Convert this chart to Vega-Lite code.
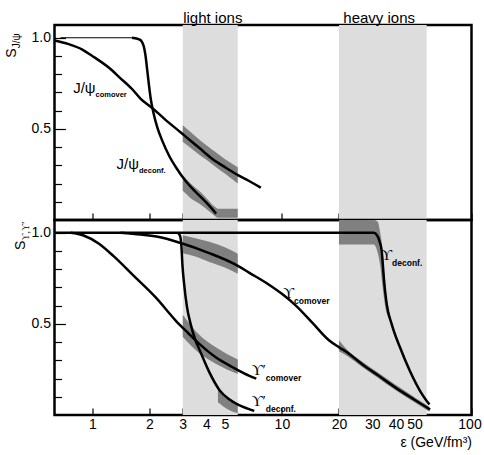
{
  "$schema": "https://vega.github.io/schema/vega-lite/v6.json",
  "padding": {"left": 3.5, "top": 9, "right": 0, "bottom": 0},
  "spacing": 0,
  "bounds": "flush",
  "config": {
    "font": "Liberation Sans",
    "view": {"stroke": "black", "strokeWidth": 2.5},
    "axis": {"grid": false, "domain": false, "tickColor": "black", "tickWidth": 1.2, "labelColor": "black", "labelFontSize": 14, "labelFont": "Liberation Sans"}
  },
  "datasets": {
    "curves": [
      {"panel": "top", "series": "jpsi_comover", "e": 0.632, "s": 0.985},
      {"panel": "top", "series": "jpsi_comover", "e": 0.75, "s": 0.965},
      {"panel": "top", "series": "jpsi_comover", "e": 0.886, "s": 0.935},
      {"panel": "top", "series": "jpsi_comover", "e": 1.0, "s": 0.9},
      {"panel": "top", "series": "jpsi_comover", "e": 1.225, "s": 0.835},
      {"panel": "top", "series": "jpsi_comover", "e": 1.4, "s": 0.78},
      {"panel": "top", "series": "jpsi_comover", "e": 1.63, "s": 0.716},
      {"panel": "top", "series": "jpsi_comover", "e": 1.8, "s": 0.665},
      {"panel": "top", "series": "jpsi_comover", "e": 2.07, "s": 0.615},
      {"panel": "top", "series": "jpsi_comover", "e": 2.4, "s": 0.555},
      {"panel": "top", "series": "jpsi_comover", "e": 2.93, "s": 0.48},
      {"panel": "top", "series": "jpsi_comover", "e": 3.3, "s": 0.435},
      {"panel": "top", "series": "jpsi_comover", "e": 3.66, "s": 0.396},
      {"panel": "top", "series": "jpsi_comover", "e": 4.3, "s": 0.335},
      {"panel": "top", "series": "jpsi_comover", "e": 5.06, "s": 0.287},
      {"panel": "top", "series": "jpsi_comover", "e": 5.9, "s": 0.245},
      {"panel": "top", "series": "jpsi_comover", "e": 6.72, "s": 0.214},
      {"panel": "top", "series": "jpsi_comover", "e": 7.74, "s": 0.177},
      {"panel": "top", "series": "jpsi_deconf_flat", "e": 0.68, "s": 1.0},
      {"panel": "top", "series": "jpsi_deconf_flat", "e": 1.66, "s": 1.0},
      {"panel": "top", "series": "jpsi_deconf", "e": 1.62, "s": 1.0},
      {"panel": "top", "series": "jpsi_deconf", "e": 1.78, "s": 0.99},
      {"panel": "top", "series": "jpsi_deconf", "e": 1.86, "s": 0.96},
      {"panel": "top", "series": "jpsi_deconf", "e": 1.91, "s": 0.9},
      {"panel": "top", "series": "jpsi_deconf", "e": 1.95, "s": 0.82},
      {"panel": "top", "series": "jpsi_deconf", "e": 1.99, "s": 0.74},
      {"panel": "top", "series": "jpsi_deconf", "e": 2.03, "s": 0.67},
      {"panel": "top", "series": "jpsi_deconf", "e": 2.1, "s": 0.59},
      {"panel": "top", "series": "jpsi_deconf", "e": 2.2, "s": 0.51},
      {"panel": "top", "series": "jpsi_deconf", "e": 2.35, "s": 0.43},
      {"panel": "top", "series": "jpsi_deconf", "e": 2.55, "s": 0.35},
      {"panel": "top", "series": "jpsi_deconf", "e": 2.8, "s": 0.28},
      {"panel": "top", "series": "jpsi_deconf", "e": 3.1, "s": 0.215},
      {"panel": "top", "series": "jpsi_deconf", "e": 3.5, "s": 0.155},
      {"panel": "top", "series": "jpsi_deconf", "e": 4.0, "s": 0.095},
      {"panel": "top", "series": "jpsi_deconf", "e": 4.5, "s": 0.035},
      {"panel": "bottom", "series": "ups_deconf", "e": 0.632, "s": 1.0},
      {"panel": "bottom", "series": "ups_deconf", "e": 30.5, "s": 1.0},
      {"panel": "bottom", "series": "ups_deconf", "e": 31.8, "s": 0.985},
      {"panel": "bottom", "series": "ups_deconf", "e": 32.8, "s": 0.95},
      {"panel": "bottom", "series": "ups_deconf", "e": 33.6, "s": 0.9},
      {"panel": "bottom", "series": "ups_deconf", "e": 34.1, "s": 0.82},
      {"panel": "bottom", "series": "ups_deconf", "e": 34.5, "s": 0.75},
      {"panel": "bottom", "series": "ups_deconf", "e": 35.7, "s": 0.61},
      {"panel": "bottom", "series": "ups_deconf", "e": 37.9, "s": 0.5},
      {"panel": "bottom", "series": "ups_deconf", "e": 42, "s": 0.37},
      {"panel": "bottom", "series": "ups_deconf", "e": 47.4, "s": 0.24},
      {"panel": "bottom", "series": "ups_deconf", "e": 53.5, "s": 0.133},
      {"panel": "bottom", "series": "ups_deconf", "e": 60, "s": 0.057},
      {"panel": "bottom", "series": "ups_comover", "e": 1.41, "s": 1.0},
      {"panel": "bottom", "series": "ups_comover", "e": 1.8, "s": 0.99},
      {"panel": "bottom", "series": "ups_comover", "e": 2.25, "s": 0.977},
      {"panel": "bottom", "series": "ups_comover", "e": 2.9, "s": 0.945},
      {"panel": "bottom", "series": "ups_comover", "e": 4.1, "s": 0.89},
      {"panel": "bottom", "series": "ups_comover", "e": 5.7, "s": 0.825},
      {"panel": "bottom", "series": "ups_comover", "e": 6.74, "s": 0.78},
      {"panel": "bottom", "series": "ups_comover", "e": 8.55, "s": 0.715},
      {"panel": "bottom", "series": "ups_comover", "e": 10, "s": 0.665},
      {"panel": "bottom", "series": "ups_comover", "e": 11.85, "s": 0.6},
      {"panel": "bottom", "series": "ups_comover", "e": 14.5, "s": 0.505},
      {"panel": "bottom", "series": "ups_comover", "e": 17.7, "s": 0.41},
      {"panel": "bottom", "series": "ups_comover", "e": 20, "s": 0.372},
      {"panel": "bottom", "series": "ups_comover", "e": 22, "s": 0.345},
      {"panel": "bottom", "series": "ups_comover", "e": 26.6, "s": 0.277},
      {"panel": "bottom", "series": "ups_comover", "e": 32, "s": 0.219},
      {"panel": "bottom", "series": "ups_comover", "e": 39.9, "s": 0.149},
      {"panel": "bottom", "series": "ups_comover", "e": 50, "s": 0.084},
      {"panel": "bottom", "series": "ups_comover", "e": 60.5, "s": 0.03},
      {"panel": "bottom", "series": "upsp_comover", "e": 0.77, "s": 1.0},
      {"panel": "bottom", "series": "upsp_comover", "e": 0.9, "s": 0.985},
      {"panel": "bottom", "series": "upsp_comover", "e": 1.085, "s": 0.94},
      {"panel": "bottom", "series": "upsp_comover", "e": 1.3, "s": 0.87},
      {"panel": "bottom", "series": "upsp_comover", "e": 1.63, "s": 0.77},
      {"panel": "bottom", "series": "upsp_comover", "e": 2.16, "s": 0.645},
      {"panel": "bottom", "series": "upsp_comover", "e": 2.76, "s": 0.517},
      {"panel": "bottom", "series": "upsp_comover", "e": 3.2, "s": 0.45},
      {"panel": "bottom", "series": "upsp_comover", "e": 3.67, "s": 0.39},
      {"panel": "bottom", "series": "upsp_comover", "e": 4.5, "s": 0.315},
      {"panel": "bottom", "series": "upsp_comover", "e": 5.5, "s": 0.262},
      {"panel": "bottom", "series": "upsp_comover", "e": 6.74, "s": 0.215},
      {"panel": "bottom", "series": "upsp_comover", "e": 7.33, "s": 0.2},
      {"panel": "bottom", "series": "upsp_deconf", "e": 2.82, "s": 1.0},
      {"panel": "bottom", "series": "upsp_deconf", "e": 2.9, "s": 0.985},
      {"panel": "bottom", "series": "upsp_deconf", "e": 2.95, "s": 0.93},
      {"panel": "bottom", "series": "upsp_deconf", "e": 2.99, "s": 0.82},
      {"panel": "bottom", "series": "upsp_deconf", "e": 3.05, "s": 0.72},
      {"panel": "bottom", "series": "upsp_deconf", "e": 3.15, "s": 0.6},
      {"panel": "bottom", "series": "upsp_deconf", "e": 3.3, "s": 0.5},
      {"panel": "bottom", "series": "upsp_deconf", "e": 3.5, "s": 0.41},
      {"panel": "bottom", "series": "upsp_deconf", "e": 3.67, "s": 0.36},
      {"panel": "bottom", "series": "upsp_deconf", "e": 4.14, "s": 0.235},
      {"panel": "bottom", "series": "upsp_deconf", "e": 4.7, "s": 0.135},
      {"panel": "bottom", "series": "upsp_deconf", "e": 5.3, "s": 0.085},
      {"panel": "bottom", "series": "upsp_deconf", "e": 5.9, "s": 0.055},
      {"panel": "bottom", "series": "upsp_deconf", "e": 6.6, "s": 0.035},
      {"panel": "bottom", "series": "upsp_deconf", "e": 7.15, "s": 0.022}
    ],
    "bands": [
      {"panel": "top", "band": "jpsi_comover", "e": 3.0, "s": 0.43, "s2": 0.52},
      {"panel": "top", "band": "jpsi_comover", "e": 3.5, "s": 0.375, "s2": 0.46},
      {"panel": "top", "band": "jpsi_comover", "e": 4.0, "s": 0.33, "s2": 0.41},
      {"panel": "top", "band": "jpsi_comover", "e": 4.5, "s": 0.29, "s2": 0.37},
      {"panel": "top", "band": "jpsi_comover", "e": 5.0, "s": 0.255, "s2": 0.335},
      {"panel": "top", "band": "jpsi_comover", "e": 5.85, "s": 0.2, "s2": 0.29},
      {"panel": "top", "band": "jpsi_deconf", "e": 3.0, "s": 0.16, "s2": 0.245},
      {"panel": "top", "band": "jpsi_deconf", "e": 3.3, "s": 0.12, "s2": 0.2},
      {"panel": "top", "band": "jpsi_deconf", "e": 3.66, "s": 0.09, "s2": 0.16},
      {"panel": "top", "band": "jpsi_deconf", "e": 4.0, "s": 0.06, "s2": 0.12},
      {"panel": "top", "band": "jpsi_deconf", "e": 4.4, "s": 0.025, "s2": 0.075},
      {"panel": "top", "band": "jpsi_deconf", "e": 4.6, "s": 0.012, "s2": 0.062},
      {"panel": "top", "band": "jpsi_deconf", "e": 5.85, "s": 0.012, "s2": 0.062},
      {"panel": "bottom", "band": "ups_comover_light", "e": 3.0, "s": 0.887, "s2": 0.987},
      {"panel": "bottom", "band": "ups_comover_light", "e": 3.5, "s": 0.87, "s2": 0.97},
      {"panel": "bottom", "band": "ups_comover_light", "e": 4.14, "s": 0.84, "s2": 0.95},
      {"panel": "bottom", "band": "ups_comover_light", "e": 5.0, "s": 0.81, "s2": 0.92},
      {"panel": "bottom", "band": "ups_comover_light", "e": 5.85, "s": 0.775, "s2": 0.885},
      {"panel": "bottom", "band": "upsp_comover", "e": 3.0, "s": 0.43, "s2": 0.55},
      {"panel": "bottom", "band": "upsp_comover", "e": 3.66, "s": 0.34, "s2": 0.44},
      {"panel": "bottom", "band": "upsp_comover", "e": 4.5, "s": 0.28, "s2": 0.37},
      {"panel": "bottom", "band": "upsp_comover", "e": 5.85, "s": 0.225, "s2": 0.305},
      {"panel": "bottom", "band": "upsp_deconf", "e": 4.6, "s": 0.07, "s2": 0.14},
      {"panel": "bottom", "band": "upsp_deconf", "e": 5.2, "s": 0.03, "s2": 0.09},
      {"panel": "bottom", "band": "upsp_deconf", "e": 5.85, "s": 0.01, "s2": 0.06},
      {"panel": "bottom", "band": "ups_deconf", "e": 20, "s": 0.935, "s2": 1.07},
      {"panel": "bottom", "band": "ups_deconf", "e": 30.5, "s": 0.935, "s2": 1.07},
      {"panel": "bottom", "band": "ups_deconf", "e": 32, "s": 0.89, "s2": 1.06},
      {"panel": "bottom", "band": "ups_deconf", "e": 33, "s": 0.82, "s2": 1.0},
      {"panel": "bottom", "band": "ups_deconf", "e": 34, "s": 0.7, "s2": 0.9},
      {"panel": "bottom", "band": "ups_deconf", "e": 35, "s": 0.6, "s2": 0.72},
      {"panel": "bottom", "band": "ups_deconf", "e": 37, "s": 0.52, "s2": 0.56},
      {"panel": "bottom", "band": "ups_comover_heavy", "e": 20, "s": 0.35, "s2": 0.41},
      {"panel": "bottom", "band": "ups_comover_heavy", "e": 22, "s": 0.325, "s2": 0.36},
      {"panel": "bottom", "band": "ups_comover_heavy", "e": 26.6, "s": 0.262, "s2": 0.292},
      {"panel": "bottom", "band": "ups_comover_heavy", "e": 32, "s": 0.204, "s2": 0.234},
      {"panel": "bottom", "band": "ups_comover_heavy", "e": 40, "s": 0.134, "s2": 0.164},
      {"panel": "bottom", "band": "ups_comover_heavy", "e": 50, "s": 0.07, "s2": 0.098},
      {"panel": "bottom", "band": "ups_comover_heavy", "e": 60, "s": 0.018, "s2": 0.045}
    ],
    "regions": [
      {"name": "light ions", "e": 3.0, "e2": 5.85},
      {"name": "heavy ions", "e": 20, "e2": 58}
    ],
    "regionLabels": [
      {"text": "light ions", "e": 4.32, "s": 1.081},
      {"text": "heavy ions", "e": 32.6, "s": 1.081}
    ],
    "labels": [
      {"panel": "top", "main": "J/ψ", "sub": "comover", "e": 1.04, "s": 0.698},
      {"panel": "top", "main": "J/ψ", "sub": "deconf.", "e": 1.763, "s": 0.279},
      {"panel": "bottom", "main": "ϒ", "sub": "deconf.", "e": 38.1, "s": 0.851},
      {"panel": "bottom", "main": "ϒ", "sub": "comover", "e": 11.6, "s": 0.641},
      {"panel": "bottom", "main": "ϒ′", "sub": "comover", "e": 8.22, "s": 0.222},
      {"panel": "bottom", "main": "ϒ′", "sub": "deconf.", "e": 8.22, "s": 0.049}
    ],
    "ytitles": [
      {"panel": "top", "main": "S", "sub": "J/ψ", "e": 0.396, "s": 0.942},
      {"panel": "bottom", "main": "S", "sub": "ϒ,ϒ′", "e": 0.441, "s": 0.956}
    ]
  },
  "vconcat": [
    {
      "width": 417,
      "height": 195,
      "encoding": {
        "x": {"field": "e", "type": "quantitative", "scale": {"type": "log", "domain": [0.632, 100], "nice": false},
          "axis": {"values": [1, 2, 3, 4, 5, 10, 20, 30, 40, 50, 100], "labels": false, "tickSize": -7, "title": null}}
      },
      "layer": [
        {
          "data": {"name": "regions"},
          "mark": {"type": "rect", "color": "#dddddd"},
          "encoding": {"x2": {"field": "e2"}}
        },
        {
          "data": {"name": "bands"},
          "transform": [{"filter": "datum.panel == 'top'"}],
          "mark": {"type": "area", "color": "#808080", "opacity": 1, "interpolate": "monotone"},
          "encoding": {
            "y": {"field": "s", "type": "quantitative", "scale": {"domain": [0, 1.07], "nice": false, "zero": false},
              "axis": {"values": [0.1, 0.2, 0.3, 0.4, 0.5, 0.6, 0.7, 0.8, 0.9, 1.0], "labelExpr": "datum.value == 0.5 || datum.value == 1 ? format(datum.value, '.1f') : ''", "tickSize": {"condition": {"test": "datum.value == 0.5 || datum.value == 1", "value": -11}, "value": -7}, "labelPadding": 15, "labelOverlap": false, "title": null}},
            "y2": {"field": "s2"},
            "detail": {"field": "band"}
          }
        },
        {
          "data": {"name": "curves"},
          "transform": [{"filter": "datum.panel == 'top' && datum.series != 'jpsi_deconf_flat'"}],
          "mark": {"type": "line", "color": "black", "strokeWidth": 2.5, "interpolate": "monotone"},
          "encoding": {
            "y": {"field": "s", "type": "quantitative", "scale": {"domain": [0, 1.07], "nice": false, "zero": false},
              "axis": {"values": [0.1, 0.2, 0.3, 0.4, 0.5, 0.6, 0.7, 0.8, 0.9, 1.0], "labelExpr": "datum.value == 0.5 || datum.value == 1 ? format(datum.value, '.1f') : ''", "tickSize": {"condition": {"test": "datum.value == 0.5 || datum.value == 1", "value": -11}, "value": -7}, "labelPadding": 15, "labelOverlap": false, "title": null}},
            "detail": {"field": "series"}
          }
        },
        {
          "data": {"name": "curves"},
          "transform": [{"filter": "datum.series == 'jpsi_deconf_flat'"}],
          "mark": {"type": "line", "color": "black", "strokeWidth": 1},
          "encoding": {
            "y": {"field": "s", "type": "quantitative", "scale": {"domain": [0, 1.07], "nice": false, "zero": false},
              "axis": {"values": [0.1, 0.2, 0.3, 0.4, 0.5, 0.6, 0.7, 0.8, 0.9, 1.0], "labelExpr": "datum.value == 0.5 || datum.value == 1 ? format(datum.value, '.1f') : ''", "tickSize": {"condition": {"test": "datum.value == 0.5 || datum.value == 1", "value": -11}, "value": -7}, "labelPadding": 15, "labelOverlap": false, "title": null}}
          }
        },
        {
          "data": {"name": "labels"},
          "transform": [{"filter": "datum.panel == 'top'"}],
          "mark": {"type": "text", "align": "right", "baseline": "alphabetic", "fontSize": 15, "font": "Liberation Sans", "color": "black"},
          "encoding": {
            "y": {"field": "s", "type": "quantitative", "scale": {"domain": [0, 1.07], "nice": false, "zero": false},
              "axis": {"values": [0.1, 0.2, 0.3, 0.4, 0.5, 0.6, 0.7, 0.8, 0.9, 1.0], "labelExpr": "datum.value == 0.5 || datum.value == 1 ? format(datum.value, '.1f') : ''", "tickSize": {"condition": {"test": "datum.value == 0.5 || datum.value == 1", "value": -11}, "value": -7}, "labelPadding": 15, "labelOverlap": false, "title": null}},
            "text": {"field": "main"}
          }
        },
        {
          "data": {"name": "labels"},
          "transform": [{"filter": "datum.panel == 'top'"}],
          "mark": {"type": "text", "align": "left", "baseline": "alphabetic", "dy": 4, "fontSize": 7.5, "fontWeight": "bold", "font": "Liberation Sans", "color": "black"},
          "encoding": {
            "y": {"field": "s", "type": "quantitative", "scale": {"domain": [0, 1.07], "nice": false, "zero": false},
              "axis": {"values": [0.1, 0.2, 0.3, 0.4, 0.5, 0.6, 0.7, 0.8, 0.9, 1.0], "labelExpr": "datum.value == 0.5 || datum.value == 1 ? format(datum.value, '.1f') : ''", "tickSize": {"condition": {"test": "datum.value == 0.5 || datum.value == 1", "value": -11}, "value": -7}, "labelPadding": 15, "labelOverlap": false, "title": null}},
            "text": {"field": "sub"}
          }
        },
        {
          "data": {"name": "regionLabels"},
          "mark": {"type": "text", "align": "center", "baseline": "alphabetic", "fontSize": 15, "font": "Liberation Sans", "color": "black"},
          "encoding": {
            "y": {"field": "s", "type": "quantitative", "scale": {"domain": [0, 1.07], "nice": false, "zero": false},
              "axis": {"values": [0.1, 0.2, 0.3, 0.4, 0.5, 0.6, 0.7, 0.8, 0.9, 1.0], "labelExpr": "datum.value == 0.5 || datum.value == 1 ? format(datum.value, '.1f') : ''", "tickSize": {"condition": {"test": "datum.value == 0.5 || datum.value == 1", "value": -11}, "value": -7}, "labelPadding": 15, "labelOverlap": false, "title": null}},
            "text": {"field": "text"}
          }
        },
        {
          "data": {"name": "ytitles"},
          "transform": [{"filter": "datum.panel == 'top'"}],
          "mark": {"type": "text", "angle": 270, "align": "right", "baseline": "alphabetic", "fontSize": 14, "font": "Liberation Sans", "color": "black"},
          "encoding": {
            "y": {"field": "s", "type": "quantitative", "scale": {"domain": [0, 1.07], "nice": false, "zero": false},
              "axis": {"values": [0.1, 0.2, 0.3, 0.4, 0.5, 0.6, 0.7, 0.8, 0.9, 1.0], "labelExpr": "datum.value == 0.5 || datum.value == 1 ? format(datum.value, '.1f') : ''", "tickSize": {"condition": {"test": "datum.value == 0.5 || datum.value == 1", "value": -11}, "value": -7}, "labelPadding": 15, "labelOverlap": false, "title": null}},
            "text": {"field": "main"}
          }
        },
        {
          "data": {"name": "ytitles"},
          "transform": [{"filter": "datum.panel == 'top'"}],
          "mark": {"type": "text", "angle": 270, "align": "left", "baseline": "alphabetic", "dy": 4, "fontSize": 10, "font": "Liberation Sans", "color": "black"},
          "encoding": {
            "y": {"field": "s", "type": "quantitative", "scale": {"domain": [0, 1.07], "nice": false, "zero": false},
              "axis": {"values": [0.1, 0.2, 0.3, 0.4, 0.5, 0.6, 0.7, 0.8, 0.9, 1.0], "labelExpr": "datum.value == 0.5 || datum.value == 1 ? format(datum.value, '.1f') : ''", "tickSize": {"condition": {"test": "datum.value == 0.5 || datum.value == 1", "value": -11}, "value": -7}, "labelPadding": 15, "labelOverlap": false, "title": null}},
            "text": {"field": "sub"}
          }
        }
      ]
    },
    {
      "width": 417,
      "height": 195,
      "encoding": {
        "x": {"field": "e", "type": "quantitative", "scale": {"type": "log", "domain": [0.632, 100], "nice": false},
          "axis": {"values": [1, 2, 3, 4, 5, 10, 20, 30, 40, 50, 100], "format": "d", "labelFlush": false, "labelOverlap": false, "tickSize": -7, "labelPadding": 9,
            "labelOffset": {"condition": {"test": "datum.value == 100", "value": -2}, "value": 0},
            "title": "ε (GeV/fm³)", "titleAnchor": "end", "titleFontSize": 14, "titleFontWeight": "normal", "titleColor": "black", "titleFont": "Liberation Sans", "titlePadding": 4}}
      },
      "layer": [
        {
          "data": {"name": "regions"},
          "mark": {"type": "rect", "color": "#dddddd"},
          "encoding": {"x2": {"field": "e2"}}
        },
        {
          "data": {"name": "bands"},
          "transform": [{"filter": "datum.panel == 'bottom'"}],
          "mark": {"type": "area", "color": "#808080", "opacity": 1, "interpolate": "monotone"},
          "encoding": {
            "y": {"field": "s", "type": "quantitative", "scale": {"domain": [0, 1.07], "nice": false, "zero": false},
              "axis": {"values": [0.1, 0.2, 0.3, 0.4, 0.5, 0.6, 0.7, 0.8, 0.9, 1.0], "labelExpr": "datum.value == 0.5 || datum.value == 1 ? format(datum.value, '.1f') : ''", "tickSize": {"condition": {"test": "datum.value == 0.5 || datum.value == 1", "value": -11}, "value": -7}, "labelPadding": 15, "labelOverlap": false, "title": null}},
            "y2": {"field": "s2"},
            "detail": {"field": "band"}
          }
        },
        {
          "data": {"name": "curves"},
          "transform": [{"filter": "datum.panel == 'bottom'"}],
          "mark": {"type": "line", "color": "black", "strokeWidth": 2.5, "interpolate": "monotone"},
          "encoding": {
            "y": {"field": "s", "type": "quantitative", "scale": {"domain": [0, 1.07], "nice": false, "zero": false},
              "axis": {"values": [0.1, 0.2, 0.3, 0.4, 0.5, 0.6, 0.7, 0.8, 0.9, 1.0], "labelExpr": "datum.value == 0.5 || datum.value == 1 ? format(datum.value, '.1f') : ''", "tickSize": {"condition": {"test": "datum.value == 0.5 || datum.value == 1", "value": -11}, "value": -7}, "labelPadding": 15, "labelOverlap": false, "title": null}},
            "detail": {"field": "series"}
          }
        },
        {
          "data": {"name": "labels"},
          "transform": [{"filter": "datum.panel == 'bottom'"}],
          "mark": {"type": "text", "align": "right", "baseline": "alphabetic", "fontSize": 15, "font": "Liberation Serif", "color": "black"},
          "encoding": {
            "y": {"field": "s", "type": "quantitative", "scale": {"domain": [0, 1.07], "nice": false, "zero": false},
              "axis": {"values": [0.1, 0.2, 0.3, 0.4, 0.5, 0.6, 0.7, 0.8, 0.9, 1.0], "labelExpr": "datum.value == 0.5 || datum.value == 1 ? format(datum.value, '.1f') : ''", "tickSize": {"condition": {"test": "datum.value == 0.5 || datum.value == 1", "value": -11}, "value": -7}, "labelPadding": 15, "labelOverlap": false, "title": null}},
            "text": {"field": "main"}
          }
        },
        {
          "data": {"name": "labels"},
          "transform": [{"filter": "datum.panel == 'bottom'"}],
          "mark": {"type": "text", "align": "left", "baseline": "alphabetic", "dy": 6, "fontSize": 8.5, "fontWeight": "bold", "font": "Liberation Sans", "color": "black"},
          "encoding": {
            "y": {"field": "s", "type": "quantitative", "scale": {"domain": [0, 1.07], "nice": false, "zero": false},
              "axis": {"values": [0.1, 0.2, 0.3, 0.4, 0.5, 0.6, 0.7, 0.8, 0.9, 1.0], "labelExpr": "datum.value == 0.5 || datum.value == 1 ? format(datum.value, '.1f') : ''", "tickSize": {"condition": {"test": "datum.value == 0.5 || datum.value == 1", "value": -11}, "value": -7}, "labelPadding": 15, "labelOverlap": false, "title": null}},
            "text": {"field": "sub"}
          }
        },
        {
          "data": {"name": "ytitles"},
          "transform": [{"filter": "datum.panel == 'bottom'"}],
          "mark": {"type": "text", "angle": 270, "align": "right", "baseline": "alphabetic", "fontSize": 14, "font": "Liberation Sans", "color": "black"},
          "encoding": {
            "y": {"field": "s", "type": "quantitative", "scale": {"domain": [0, 1.07], "nice": false, "zero": false},
              "axis": {"values": [0.1, 0.2, 0.3, 0.4, 0.5, 0.6, 0.7, 0.8, 0.9, 1.0], "labelExpr": "datum.value == 0.5 || datum.value == 1 ? format(datum.value, '.1f') : ''", "tickSize": {"condition": {"test": "datum.value == 0.5 || datum.value == 1", "value": -11}, "value": -7}, "labelPadding": 15, "labelOverlap": false, "title": null}},
            "text": {"field": "main"}
          }
        },
        {
          "data": {"name": "ytitles"},
          "transform": [{"filter": "datum.panel == 'bottom'"}],
          "mark": {"type": "text", "angle": 270, "align": "left", "baseline": "alphabetic", "dy": 4, "fontSize": 10, "font": "Liberation Serif", "color": "black"},
          "encoding": {
            "y": {"field": "s", "type": "quantitative", "scale": {"domain": [0, 1.07], "nice": false, "zero": false},
              "axis": {"values": [0.1, 0.2, 0.3, 0.4, 0.5, 0.6, 0.7, 0.8, 0.9, 1.0], "labelExpr": "datum.value == 0.5 || datum.value == 1 ? format(datum.value, '.1f') : ''", "tickSize": {"condition": {"test": "datum.value == 0.5 || datum.value == 1", "value": -11}, "value": -7}, "labelPadding": 15, "labelOverlap": false, "title": null}},
            "text": {"field": "sub"}
          }
        }
      ]
    }
  ]
}
